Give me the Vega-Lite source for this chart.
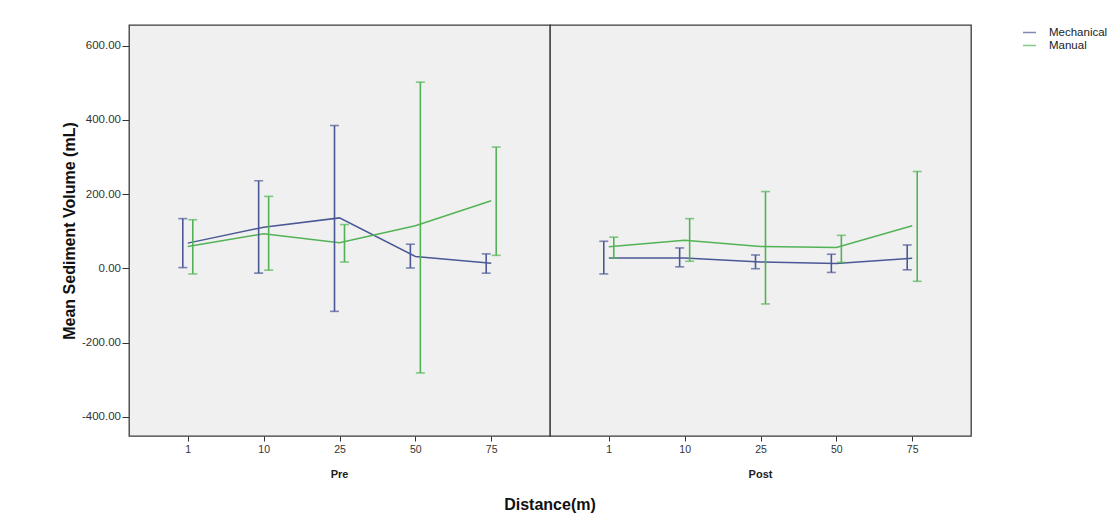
{
  "$schema": "https://vega.github.io/schema/vega-lite/v6.json",
  "background": "white",
  "padding": {"left": 61, "top": 24, "right": 2, "bottom": 5},
  "bounds": "flush",
  "data": {"values": [
    {"period": "Pre", "distance": "1", "group": "Mechanical", "mean": 68, "low": 2, "high": 134},
    {"period": "Pre", "distance": "10", "group": "Mechanical", "mean": 111, "low": -13, "high": 236},
    {"period": "Pre", "distance": "25", "group": "Mechanical", "mean": 136, "low": -116, "high": 385},
    {"period": "Pre", "distance": "50", "group": "Mechanical", "mean": 32, "low": 1, "high": 65},
    {"period": "Pre", "distance": "75", "group": "Mechanical", "mean": 14, "low": -13, "high": 39},
    {"period": "Pre", "distance": "1", "group": "Manual", "mean": 59, "low": -15, "high": 131},
    {"period": "Pre", "distance": "10", "group": "Manual", "mean": 93, "low": -5, "high": 194},
    {"period": "Pre", "distance": "25", "group": "Manual", "mean": 69, "low": 17, "high": 118},
    {"period": "Pre", "distance": "50", "group": "Manual", "mean": 115, "low": -282, "high": 502},
    {"period": "Pre", "distance": "75", "group": "Manual", "mean": 182, "low": 35, "high": 327},
    {"period": "Post", "distance": "1", "group": "Mechanical", "mean": 28, "low": -15, "high": 73},
    {"period": "Post", "distance": "10", "group": "Mechanical", "mean": 28, "low": 4, "high": 55},
    {"period": "Post", "distance": "25", "group": "Mechanical", "mean": 17, "low": -1, "high": 36},
    {"period": "Post", "distance": "50", "group": "Mechanical", "mean": 13, "low": -11, "high": 38},
    {"period": "Post", "distance": "75", "group": "Mechanical", "mean": 27, "low": -4, "high": 63},
    {"period": "Post", "distance": "1", "group": "Manual", "mean": 58, "low": 28, "high": 84},
    {"period": "Post", "distance": "10", "group": "Manual", "mean": 76, "low": 19, "high": 134},
    {"period": "Post", "distance": "25", "group": "Manual", "mean": 59, "low": -96, "high": 207},
    {"period": "Post", "distance": "50", "group": "Manual", "mean": 56, "low": 16, "high": 89},
    {"period": "Post", "distance": "75", "group": "Manual", "mean": 115, "low": -35, "high": 261}
  ]},
  "facet": {
    "column": {
      "field": "period", "type": "nominal", "sort": ["Pre", "Post"],
      "title": "Distance(m)",
      "header": {
        "labelOrient": "bottom", "titleOrient": "bottom",
        "labelFont": "Liberation Sans", "labelFontSize": 11, "labelFontWeight": "bold", "labelColor": "#222", "labelPadding": 14,
        "titleFont": "Liberation Sans", "titleFontSize": 16, "titleFontWeight": "bold", "titleColor": "#111", "titlePadding": 7
      }
    }
  },
  "spacing": 0,
  "spec": {
    "width": 421,
    "height": 411,
    "layer": [
      {
        "mark": {"type": "line", "strokeWidth": 1.5},
        "encoding": {
          "x": {"field": "distance", "type": "ordinal", "sort": ["1", "10", "25", "50", "75"], "scale": {"type": "point", "padding": 0.775}, "axis": {"title": null, "labelAngle": 0}},
          "y": {"field": "mean", "type": "quantitative", "scale": {"domain": [-452, 656], "nice": false, "zero": false},
                "axis": {"title": "Mean Sediment Volume (mL)", "values": [-400, -200, 0, 200, 400, 600], "labelExpr": "replace(format(datum.value, '.2f'), '\u2212', '-')"}},
          "color": {"field": "group", "type": "nominal", "scale": {"domain": ["Mechanical", "Manual"], "range": ["#4A5895", "#52B356"]}, "legend": {"title": null}}
        }
      },
      {
        "mark": {"type": "rule", "strokeWidth": 1.6, "xOffset": {"expr": "datum.group === 'Mechanical' ? -5 : 5"}},
        "encoding": {
          "x": {"field": "distance", "type": "ordinal", "sort": ["1", "10", "25", "50", "75"]},
          "y": {"field": "low", "type": "quantitative"},
          "y2": {"field": "high"},
          "color": {"field": "group", "type": "nominal"}
        }
      },
      {
        "mark": {"type": "tick", "size": 9, "thickness": 1.6, "xOffset": {"expr": "datum.group === 'Mechanical' ? -5 : 5"}},
        "encoding": {
          "x": {"field": "distance", "type": "ordinal", "sort": ["1", "10", "25", "50", "75"]},
          "y": {"field": "high", "type": "quantitative"},
          "color": {"field": "group", "type": "nominal"}
        }
      },
      {
        "mark": {"type": "tick", "size": 9, "thickness": 1.6, "xOffset": {"expr": "datum.group === 'Mechanical' ? -5 : 5"}},
        "encoding": {
          "x": {"field": "distance", "type": "ordinal", "sort": ["1", "10", "25", "50", "75"]},
          "y": {"field": "low", "type": "quantitative"},
          "color": {"field": "group", "type": "nominal"}
        }
      }
    ]
  },
  "config": {
    "view": {"fill": "#F0F0F0", "stroke": "#3a3a3a", "strokeWidth": 1.3},
    "axis": {"labelFont": "Liberation Sans", "titleFont": "Liberation Sans", "labelColor": "#333", "tickColor": "#333", "grid": false, "domain": false},
    "axisY": {"labelFontSize": 11.5, "tickSize": 7, "labelPadding": 1.5, "titleFontSize": 16, "titleFontWeight": "bold", "titleColor": "#111", "titlePadding": 4},
    "axisX": {"labelFontSize": 10.5, "tickSize": 5, "labelPadding": 3},
    "legend": {"orient": "right", "offset": 50, "symbolType": "stroke", "symbolStrokeWidth": 1.5, "symbolSize": 170, "labelFont": "Liberation Sans", "labelFontSize": 11.5, "labelColor": "#222", "rowPadding": 0, "labelOffset": 12}
  }
}
